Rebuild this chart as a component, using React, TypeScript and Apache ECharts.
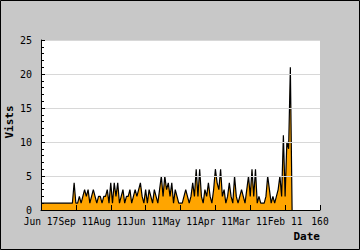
import React, { useEffect, useRef } from "react";
import * as echarts from "echarts";

const xTickLabels = ["Jun 17", "Sep 11", "Aug 11", "Jun 11", "May 11", "Apr 11", "Mar 11", "Feb 11", "160"];

const visits = [
  1, 1, 1, 1, 1, 1, 1, 1, 1, 1, 1, 1, 1, 1, 1, 1, 1, 1, 1,
  4, 1, 1, 2, 1, 2, 3, 2, 3, 1, 2, 3, 2, 1, 2, 2, 1, 2, 2, 3, 1,
  4, 1, 4, 2, 4, 1, 2, 3, 1, 2, 2, 3, 1, 2, 3, 2, 3, 4, 2, 1,
  3, 1, 3, 2, 1, 3, 2, 1, 3, 5, 2, 5, 3, 4, 2, 4, 1, 3, 2, 1,
  1, 1, 2, 3, 2, 1, 2, 4, 2, 6, 2, 6, 2, 1, 3, 2, 4, 2, 1, 3,
  6, 4, 3, 6, 2, 3, 1, 2, 4, 2, 1, 5, 2, 1, 2, 3, 2, 1, 3, 5,
  2, 6, 2, 6, 1, 2, 1, 1, 1, 2, 5, 3, 1, 2, 1, 2, 3, 5, 2, 11,
  2, 10, 9, 21, 0,
];

const yMax = 25;
const xMax = 160;

export default function App() {
  const ref = useRef<HTMLDivElement>(null);
  useEffect(() => {
    document.body.style.margin = "0";
    if (!ref.current) return;
    const chart = echarts.init(ref.current, null, { renderer: "svg" });
    const font = "'DejaVu Sans Mono', monospace";
    chart.setOption({
      animation: false,
      backgroundColor: "#c8c8c8",
      grid: { left: 41, top: 40, width: 279, height: 170, backgroundColor: "#fff", show: true, borderWidth: 0 },
      xAxis: {
        type: "value",
        min: 0,
        max: xMax,
        interval: 20,
        z: 5,
        axisLine: { show: true, lineStyle: { color: "#000", width: 1 } },
        axisTick: { show: true, inside: true, length: 5, lineStyle: { color: "#000" } },
        splitLine: { show: false },
        axisLabel: {
          color: "#000",
          fontFamily: font,
          fontSize: 9.6,
          margin: 6,
          showMinLabel: true,
          showMaxLabel: true,
          hideOverlap: false,
          formatter: (v: number) => xTickLabels[Math.round(v / 20)] ?? "",
        },
      },
      yAxis: {
        type: "value",
        min: 0,
        max: yMax,
        interval: 5,
        z: 5,
        axisLine: { show: true, lineStyle: { color: "#000", width: 1 } },
        axisTick: { show: true, inside: true, length: 4, lineStyle: { color: "#000" } },
        minorTick: { show: true, splitNumber: 5, length: 3, lineStyle: { color: "#000" } },
        splitLine: { show: true, lineStyle: { color: "#d8d8d8", width: 1 } },
        axisLabel: { color: "#000", fontFamily: font, fontSize: 10, margin: 9, showMinLabel: true, showMaxLabel: true },
      },
      series: [
        {
          type: "line",
          data: visits.map((v, i) => [i, v]),
          symbol: "none",
          lineStyle: { color: "#000", width: 1.2 },
          areaStyle: { color: "#ffa500", opacity: 1 },
          z: 2,
        },
      ],
      graphic: [
        {
          type: "text",
          x: 320,
          y: 236,
          style: { text: "Date", font: `bold 11px ${font}`, fill: "#000", align: "right", verticalAlign: "middle" },
        },
        {
          type: "text",
          x: 9,
          y: 122,
          rotation: Math.PI / 2,
          style: { text: "Vists", font: `bold 11px ${font}`, fill: "#000", align: "center", verticalAlign: "middle" },
        },
        {
          type: "rect",
          shape: { x: 0.5, y: 0.5, width: 359, height: 249 },
          style: { fill: "none", stroke: "#000", lineWidth: 1 },
          silent: true,
        },
      ],
    });
    return () => chart.dispose();
  }, []);
  return <div ref={ref} style={{ width: 360, height: 250 }} />;
}
